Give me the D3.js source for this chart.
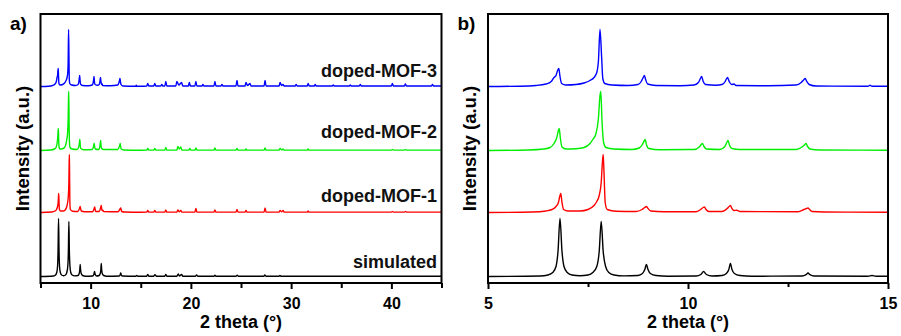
<!DOCTYPE html>
<html>
<head>
<meta charset="utf-8">
<script src="https://cdn.jsdelivr.net/npm/d3@7"></script>
<style>
  html, body { margin: 0; padding: 0; background: #fff; }
  svg { display: block; font-family: "Liberation Sans", Arial, Helvetica, sans-serif; }
</style>
</head>
<body>
<svg id="chart" width="901" height="336"></svg>
<script>
// ---------------- DATA ----------------
const seriesNames = ["simulated", "doped-MOF-1", "doped-MOF-2", "doped-MOF-3"];
const seriesColors = ["#000000", "#ff0000", "#00ee00", "#0000ff"];
const seriesOffsets = [0, 64, 126, 190];

// [2theta, intensity (a.u.)]
const simulated = [
  [5,0],[6.3,0.5],[6.5,1.5],[6.62,4],[6.7,10],[6.75,25],[6.8,58],[6.85,25],[6.9,10],[6.98,4],[7.1,1.5],[7.3,0.8],
  [7.5,1.5],[7.62,4],[7.72,10],[7.78,25],[7.83,55],[7.88,25],[7.94,10],[8.02,4],[8.15,1.5],[8.4,0.6],
  [8.75,1],[8.86,3],[8.92,7],[8.96,12],[9.0,7],[9.06,3],[9.2,1],[9.5,0.3],
  [10.2,0.5],[10.32,2],[10.39,5],[10.46,2],[10.6,0.5],
  [10.85,1],[10.96,3],[11.02,7],[11.06,13],[11.1,7],[11.16,3],[11.3,1],[11.6,0.3],
  [12.85,0.5],[12.95,1.8],[13.0,3.5],[13.05,1.8],[13.15,0.5],[14.5,0.3],[14.6,1],[14.7,0.3],
  [15.6,0.3],[15.7,2],[15.8,0.3],[16.3,0.3],[16.42,1.8],[16.55,0.3],[17.4,0.3],[17.5,2],[17.6,0.3],
  [18.6,0.3],[18.74,2.5],[18.85,0.5],[19.07,2],[19.2,0.3],[20.45,0.3],[20.57,1.5],[20.7,0.3],
  [22.3,0.3],[22.4,1.2],[22.5,0.3],[24.5,0.3],[24.62,1.2],[24.75,0.3],[27.28,0.3],[27.38,1.5],[27.5,0.3],
  [28.8,0.3],[28.88,1],[29,0.3],[45,0.3]
];
const dopedMOF1 = [
  [5,0],[6.1,0.5],[6.45,1.5],[6.6,3],[6.7,6],[6.76,10],[6.8,17],[6.82,19],[6.85,10],[6.89,3],[7.0,1.5],
  [7.3,1.5],[7.5,3],[7.65,7],[7.72,11],[7.78,17],[7.83,30],[7.86,50],[7.88,58],[7.9,40],[7.93,10],[7.98,3],[8.2,1.2],
  [8.7,1],[8.85,3],[8.92,5],[8.96,6],[9.0,4],[9.07,1.5],[9.4,0.8],
  [10.2,0.8],[10.32,3],[10.38,5],[10.41,5.5],[10.45,3],[10.52,1],
  [10.85,1],[10.98,4],[11.03,6],[11.06,7],[11.1,4],[11.15,2],[11.22,2.2],[11.3,1],
  [12.75,0.8],[12.9,3],[12.96,4],[13.0,4.5],[13.04,3],[13.1,1],[13.4,0.5],[15,0.3],
  [15.6,0.4],[15.7,2],[15.8,0.4],[16.3,0.4],[16.4,2],[16.5,0.4],[17.4,0.4],[17.5,2.5],[17.6,0.4],
  [18.6,0.4],[18.7,2.5],[18.85,0.8],[19.0,2],[19.1,0.4],[20.4,0.4],[20.5,4],[20.6,0.4],
  [22.3,0.4],[22.4,2.5],[22.5,0.4],[24.5,0.4],[24.6,3],[24.7,0.4],[25.4,0.4],[25.5,2],[25.6,0.4],
  [27.3,0.4],[27.4,4.5],[27.5,0.4],[28.8,0.4],[28.9,2],[29.05,0.8],[29.2,2],[29.3,0.4],
  [31.6,0.4],[31.7,1.5],[31.8,0.4],[40.0,0.4],[40.1,1],[40.2,0.4],[41.3,0.4],[41.4,1],[41.5,0.4],[45,0.4]
];
const dopedMOF2 = [
  [5,0],[6.0,0.5],[6.4,1.5],[6.55,3],[6.65,7],[6.72,13],[6.76,20],[6.78,22],[6.81,12],[6.85,3.5],[6.95,1.5],
  [7.2,1.8],[7.4,3],[7.55,7],[7.62,11],[7.7,17],[7.76,32],[7.8,55],[7.82,59],[7.85,30],[7.89,8],[7.95,3],[8.15,1.5],
  [8.6,1],[8.78,2.5],[8.86,6],[8.91,10],[8.93,11],[8.96,6],[9.02,2],[9.3,0.8],
  [10.15,1],[10.28,3.5],[10.33,6],[10.36,7],[10.4,4],[10.46,1.5],
  [10.8,1],[10.92,4],[10.97,8],[11.0,10],[11.04,5],[11.1,2],[11.3,1],
  [12.7,1],[12.85,3.5],[12.91,5.5],[12.95,7],[12.99,4],[13.05,1.5],[13.3,0.5],[15,0.3],
  [15.6,0.4],[15.7,2],[15.8,0.4],[16.3,0.4],[16.4,2],[16.5,0.4],[17.4,0.4],[17.5,3],[17.6,0.4],
  [18.6,0.4],[18.7,4],[18.85,1.5],[19.0,3.5],[19.1,0.4],[19.8,0.4],[19.9,2],[20.0,0.4],[20.4,0.4],[20.5,2.5],[20.6,0.4],
  [22.3,0.4],[22.4,2.5],[22.5,0.4],[24.5,0.4],[24.6,2],[24.7,0.4],[25.4,0.4],[25.5,1.5],[25.6,0.4],
  [27.3,0.4],[27.4,2.5],[27.5,0.4],[28.8,0.4],[28.9,2],[29.05,0.6],[29.2,1.5],[29.3,0.4],
  [31.6,0.4],[31.7,1.5],[31.8,0.4],[40.0,0.4],[40.1,1],[40.2,0.4],[41.3,0.4],[41.4,1],[41.5,0.4],[45,0.4]
];
const dopedMOF3 = [
  [5,0],[5.8,0.3],[6.2,1],[6.45,2.5],[6.58,5],[6.65,9],[6.7,11],[6.74,16],[6.77,18],[6.8,10],[6.84,3],[6.95,1.5],
  [7.2,2],[7.4,3.5],[7.55,6],[7.65,9],[7.72,14],[7.76,25],[7.8,57],[7.84,30],[7.87,8],[7.92,3],[8.1,1.5],
  [8.5,1],[8.75,2],[8.83,5],[8.88,9],[8.91,11],[8.94,7],[8.99,2.5],[9.2,1],
  [9.8,0.8],[10.15,1.5],[10.26,4],[10.31,8],[10.34,10],[10.38,5],[10.44,2],
  [10.7,1.2],[10.85,2],[10.93,5],[10.96,7.5],[10.99,9],[11.03,5],[11.09,2],[11.15,2.5],[11.2,1],
  [12.0,0.7],[12.7,1.5],[12.83,4],[12.89,6.5],[12.93,8],[12.97,5],[13.03,2],[13.2,0.5],
  [14.5,0.3],[14.55,1.2],[14.6,0.3],[15,0.3],
  [15.6,0.5],[15.7,3],[15.8,0.5],[16.3,0.5],[16.4,3],[16.5,0.5],[17.0,0.5],[17.1,2],[17.2,0.5],[17.4,0.5],[17.5,5],[17.6,0.5],
  [18.5,0.5],[18.6,5],[18.8,1.5],[19.07,4],[19.2,0.5],[19.75,0.5],[19.85,4],[19.95,0.5],[20.4,0.5],[20.5,5],[20.6,0.5],
  [21.1,0.5],[21.2,2],[21.3,0.5],[22.3,0.5],[22.4,5],[22.5,0.5],[23.0,0.5],[23.1,2],[23.2,0.5],
  [24.5,0.5],[24.6,6],[24.7,0.5],[25.4,0.5],[25.5,4],[25.65,1],[25.9,3],[26.0,0.5],
  [27.3,0.5],[27.4,6],[27.5,0.5],[28.8,0.5],[28.9,4],[29.05,1],[29.2,2],[29.3,0.5],
  [30.4,0.5],[30.5,2],[30.6,0.5],[31.6,0.5],[31.7,3],[31.8,0.5],[32.3,0.5],[32.4,2],[32.5,0.5],
  [34.1,0.5],[34.2,1.5],[34.3,0.5],[35.8,0.5],[35.9,1.5],[36.0,0.5],[36.8,0.5],[36.9,2],[37.0,0.5],
  [40.0,0.5],[40.1,3],[40.2,0.5],[41.3,0.5],[41.4,2.5],[41.5,0.5],[44.0,0.5],[44.1,2],[44.2,0.5],[45,0.5]
];
const seriesData = [simulated, dopedMOF1, dopedMOF2, dopedMOF3];

const panelATicks = [10, 20, 30, 40];
const panelAMinor = [5, 15, 25, 35, 45];
const panelBTicks = [5, 10, 15];
const panelBMinor = [7.5, 12.5];

// ---------------- LAYOUT ----------------
const svg = d3.select("#chart");
const plotTop = 14, plotBottom = 283;
const y = d3.scaleLinear().domain([-6.5, 262.5]).range([plotBottom, plotTop]);

const panels = [
  { id: "a", label: "a)", x0: 40.5, x1: 441.5, domain: [5, 45], ticks: panelATicks, minor: panelAMinor, labels: true },
  { id: "b", label: "b)", x0: 488, x1: 888, domain: [5, 15], ticks: panelBTicks, minor: panelBMinor, labels: false }
];

panels.forEach(p => {
  const x = d3.scaleLinear().domain(p.domain).range([p.x0, p.x1]);
  const g = svg.append("g");

  g.append("clipPath").attr("id", "clip-" + p.id)
    .append("rect").attr("x", p.x0).attr("y", plotTop).attr("width", p.x1 - p.x0).attr("height", plotBottom - plotTop);

  const plot = g.append("g").attr("clip-path", "url(#clip-" + p.id + ")");
  seriesData.forEach((data, i) => {
    const line = d3.line()
      .x(d => x(d[0]))
      .y(d => y(d[1] + seriesOffsets[i]))
      .curve(d3.curveMonotoneX);
    plot.append("path")
      .datum(data)
      .attr("fill", "none")
      .attr("stroke", seriesColors[i])
      .attr("stroke-width", 1.4)
      .attr("stroke-linejoin", "round")
      .attr("d", line);
  });

  // major ticks with labels
  const axisMajor = d3.axisBottom(x).tickValues(p.ticks).tickSize(6).tickPadding(9)
    .tickFormat(d3.format("d"));
  const gx = g.append("g").attr("transform", `translate(0,${plotBottom})`).call(axisMajor);
  gx.select(".domain").remove();
  gx.selectAll(".tick line").attr("stroke", "#000").attr("stroke-width", 2);
  gx.selectAll(".tick text").attr("fill", "#000").attr("font-size", 16).attr("font-weight", "bold")
    .attr("font-family", "Liberation Sans, Arial, sans-serif");

  const axisMinor = d3.axisBottom(x).tickValues(p.minor).tickSize(p.id === "a" ? 5 : 4).tickFormat("");
  const gm = g.append("g").attr("transform", `translate(0,${plotBottom})`).call(axisMinor);
  gm.select(".domain").remove();
  gm.selectAll(".tick line").attr("stroke", "#000").attr("stroke-width", 2);

  // frame
  g.append("rect")
    .attr("x", p.x0).attr("y", plotTop)
    .attr("width", p.x1 - p.x0).attr("height", plotBottom - plotTop)
    .attr("fill", "none").attr("stroke", "#000").attr("stroke-width", 2);

  // axis titles
  g.append("text")
    .attr("x", (p.x0 + p.x1) / 2).attr("y", 328)
    .attr("text-anchor", "middle").attr("font-size", 18).attr("font-weight", "bold")
    .text("2 theta (°)");
  g.append("text")
    .attr("transform", `translate(${p.x0 - 12},${(plotTop + plotBottom) / 2}) rotate(-90)`)
    .attr("text-anchor", "middle").attr("font-size", 18.5).attr("font-weight", "bold")
    .text("Intensity (a.u.)");

  // panel letter
  g.append("text")
    .attr("x", p.x0 - 30.5).attr("y", 29.5)
    .attr("font-size", 19).attr("font-weight", "bold")
    .text(p.label);

  // series labels
  if (p.labels) {
    const labelBase = [268.3, 202.3, 137.7, 76.5];
    seriesNames.forEach((name, i) => {
      g.append("text")
        .attr("x", p.x1 - 4.5).attr("y", labelBase[i])
        .attr("text-anchor", "end").attr("font-size", 18).attr("font-weight", "bold")
        .attr("fill", "#111")
        .text(name);
    });
  }
});
</script>
</body>
</html>
